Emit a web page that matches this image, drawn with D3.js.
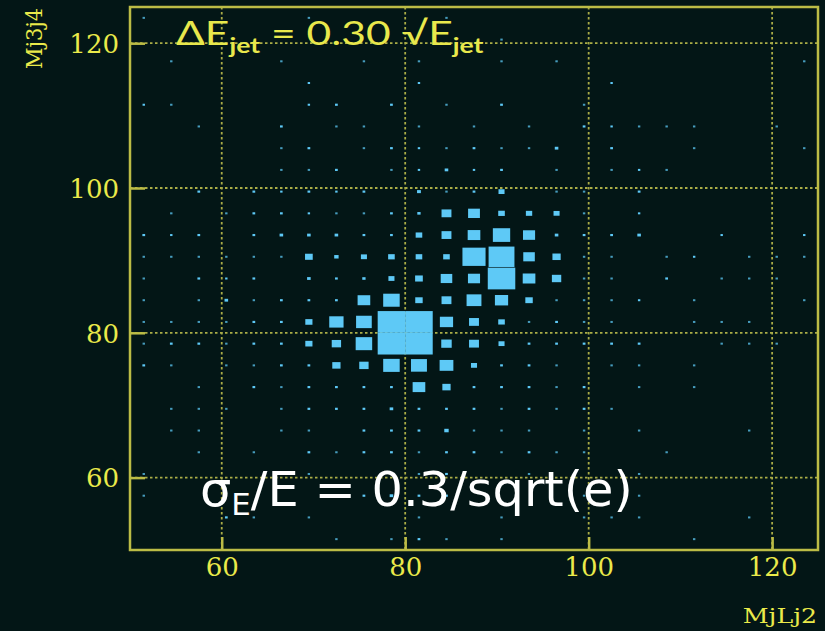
<!DOCTYPE html>
<html><head><meta charset="utf-8">
<script src="https://cdn.jsdelivr.net/npm/d3@7"></script>
<style>html,body{margin:0;padding:0;background:#031616;}</style>
</head><body>
<svg id="c" width="825" height="631"></svg>
<script>
// ---- data ----
const xBins = [51.5,54.5,57.5,60.5,63.5,66.5,69.5,72.5,75.5,78.5,81.5,84.5,87.5,90.5,93.5,96.5,99.5,102.5,105.5,108.5,111.5,114.5,117.5,120.5,123.5];
const yBins = [123.5,120.5,117.5,114.5,111.5,108.5,105.5,102.5,99.5,96.5,93.5,90.5,87.5,84.5,81.5,78.5,75.5,72.5,69.5,66.5,63.5,60.5,57.5,54.5,51.5];
const binWidth = 3;
// counts[row][col]  rows follow yBins (top to bottom), cols follow xBins
const counts = [
 [5,0,0,0,0,0,5,0,0,0,0,5,0,0,0,0,0,0,0,0,0,0,0,0,0],
 [0,0,0,0,0,0,0,0,0,0,0,0,0,5,0,0,0,0,0,0,0,0,0,0,0],
 [0,5,0,0,0,5,0,0,5,0,5,0,0,5,0,5,0,0,0,0,0,0,0,0,5],
 [0,0,0,0,0,0,8,0,0,0,8,0,0,0,0,0,0,8,0,0,0,0,0,0,0],
 [8,5,0,0,0,0,8,10,0,10,0,5,0,10,0,0,5,0,0,0,0,0,0,0,0],
 [0,0,5,0,0,10,0,5,5,0,5,0,5,0,5,0,10,8,5,5,5,0,0,5,0],
 [0,0,0,0,0,5,10,0,5,10,8,5,10,5,5,13,0,10,0,0,5,0,0,0,5],
 [0,0,0,0,0,5,5,10,0,5,8,13,8,10,0,5,0,5,8,5,0,0,0,0,0],
 [0,0,10,0,10,8,10,8,10,0,14,5,10,22,0,5,5,0,10,0,0,0,0,0,0],
 [0,5,0,5,10,10,8,5,5,10,12,36,43,24,23,22,5,0,8,0,0,0,0,0,0],
 [10,8,10,0,10,13,13,13,10,10,24,36,46,63,44,13,10,10,13,0,0,8,0,0,8],
 [5,5,5,5,5,5,28,16,22,24,24,24,84,94,42,30,5,5,0,5,8,0,5,5,5],
 [5,0,10,8,10,0,13,10,12,22,28,42,44,100,46,34,5,5,0,10,0,5,5,5,0],
 [5,0,5,13,5,10,10,10,46,60,27,36,54,48,27,5,5,5,8,0,5,0,0,0,5],
 [5,5,5,5,10,10,26,52,57,100,100,48,36,24,5,10,5,5,0,0,5,5,5,0,0],
 [5,10,10,5,10,10,26,34,60,100,100,38,36,22,10,10,10,10,10,0,0,5,5,5,0],
 [10,5,0,5,5,10,10,30,34,60,58,50,22,10,10,5,0,5,5,0,5,0,0,0,0],
 [0,0,5,0,10,5,10,10,10,10,46,30,10,10,10,5,10,0,5,0,5,0,0,0,0],
 [0,5,5,5,0,5,10,10,10,13,10,10,10,5,10,5,10,5,0,0,0,0,0,0,0],
 [0,5,5,0,0,5,5,0,10,10,10,16,5,5,5,0,5,0,5,0,0,0,5,0,0],
 [0,0,5,0,5,0,10,5,10,10,5,10,10,5,10,5,5,0,0,5,0,0,0,0,0],
 [5,0,0,0,0,0,5,0,0,5,5,10,0,0,5,0,0,0,5,0,0,0,0,0,0],
 [5,0,0,0,0,0,0,0,10,13,10,10,0,0,0,0,5,0,5,0,0,0,0,0,0],
 [0,0,0,10,5,0,5,0,0,0,5,0,0,5,0,0,5,5,5,0,0,0,5,0,0],
 [0,0,0,0,0,0,0,5,0,5,10,5,0,5,0,0,0,0,0,0,5,0,0,0,0]
];
const xTicks = [60,80,100,120];
const yTicks = [60,80,100,120];
const xDomain = [50,125];
const yDomain = [50,125];
const xTitle = "MjLj2";
const yTitle = "Mj3j4";

// ---- layout ----
const W = 825, H = 631;
const L = 130, R = 818, T = 7, B = 550;
const bg = "#031616", frameCol = "#bcbc46", tickCol = "#eaea4a", boxCol = "#5ec9f6";

const svg = d3.select("#c");
svg.append("rect").attr("width",W).attr("height",H).attr("fill",bg);

const x = d3.scaleLinear().domain(xDomain).range([L,R]);
const y = d3.scaleLinear().domain(yDomain).range([B,T]);
const size = d3.scaleLinear().domain([0,100]).range([0,1]);

// grid
const grid = svg.append("g").attr("stroke","#c8c850").attr("stroke-width",1.8).attr("stroke-dasharray","2.5,2.5").attr("opacity",0.85);
grid.selectAll("line.v").data(xTicks).join("line").attr("x1",d=>x(d)).attr("x2",d=>x(d)).attr("y1",T).attr("y2",B);
grid.selectAll("line.h").data(yTicks).join("line").attr("x1",L).attr("x2",R).attr("y1",d=>y(d)).attr("y2",d=>y(d));

// boxes
const cells = [];
counts.forEach((row,r)=>row.forEach((v,c)=>{ if(v>0) cells.push({xc:xBins[c], yc:yBins[r], v}); }));
const cw = x(binWidth)-x(0), ch = y(0)-y(binWidth);
svg.append("g").selectAll("rect").data(cells).join("rect")
  .attr("fill",boxCol)
  .each(function(d){
    const f = size(d.v);
    const w = Math.max(2.4, cw*f), h = Math.max(2, ch*f);
    d3.select(this).attr("x",x(d.xc)-w/2).attr("y",y(d.yc)-h/2).attr("width",w).attr("height",h)
      .attr("opacity", d.v < 7 ? 0.75 : 1);
  });

// frame
svg.append("rect").attr("x",L).attr("y",T).attr("width",R-L).attr("height",B-T)
  .attr("fill","none").attr("stroke",frameCol).attr("stroke-width",2.5);

// axes with inward ticks
const xAxis = d3.axisBottom(x).tickValues(xTicks).tickSize(-13).tickPadding(24).tickFormat(d3.format("d"));
const yAxis = d3.axisLeft(y).tickValues(yTicks).tickSize(-15).tickPadding(24).tickFormat(d3.format("d"));
const gx = svg.append("g").attr("transform",`translate(0,${B})`).call(xAxis);
const gy = svg.append("g").attr("transform",`translate(${L},0)`).call(yAxis);
[gx,gy].forEach(g=>{
  g.select(".domain").remove();
  g.selectAll(".tick line").attr("stroke",frameCol).attr("stroke-width",2.5);
  g.selectAll(".tick text").attr("fill",tickCol).attr("font-family","DejaVu Serif").attr("font-size",26);
});
gx.selectAll(".tick text").attr("dy","0.71em").attr("y",8);
gy.selectAll(".tick text").attr("x",-11).attr("dy","0.36em");

// axis titles
svg.append("text").attr("transform","translate(42,69) rotate(-90) scale(1.05,1.15)").attr("fill",tickCol)
  .attr("font-family","DejaVu Serif").attr("font-size",20).text(yTitle);
svg.append("text").attr("transform","translate(817,623) scale(1.2,1)").attr("text-anchor","end").attr("fill",tickCol)
  .attr("font-family","DejaVu Serif").attr("font-size",21).text(xTitle);

// annotation (yellow)
const t1 = svg.append("text").attr("transform","translate(176,45) scale(1.33,1)").attr("fill","#e8e84c")
  .attr("font-family","Lato").attr("font-size",32);
t1.append("tspan").text("ΔE");
t1.append("tspan").attr("font-size",20).attr("font-weight","bold").attr("dy",8).text("jet");
t1.append("tspan").attr("dy",-8).text(" = 0.30 √E");
t1.append("tspan").attr("font-size",20).attr("font-weight","bold").attr("dy",8).text("jet");

// annotation (white)
const t2 = svg.append("text").attr("transform","translate(200,506) scale(1.03,1)").attr("fill","#ffffff")
  .attr("font-family","DejaVu Sans").attr("font-size",48);
t2.append("tspan").text("σ");
t2.append("tspan").attr("font-size",30).attr("dy",9).text("E");
t2.append("tspan").attr("dy",-9).text("/E = 0.3/sqrt(e)");
</script>
</body></html>
